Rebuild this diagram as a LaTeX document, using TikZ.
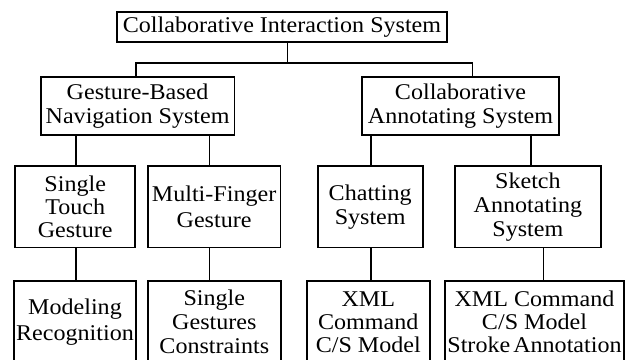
\documentclass[tikz,border=0pt]{standalone}
\usepackage{fontspec}
\setmainfont{Liberation Serif}[FakeStretch=1.07]
\begin{document}
\begin{tikzpicture}[x=1pt,y=-1pt,
  box/.style={draw=black,line width=1.9pt,rectangle,inner sep=0pt,align=center,
    font=\fontsize{22.5}{24}\selectfont},
  conn/.style={draw=black,line width=1.1pt}]
\useasboundingbox (0,0) rectangle (632,359);
\fill[white] (0,0) rectangle (632,359);
\clip (0,0) rectangle (632,359);
% row 1
\node[box,minimum width=330.6pt,minimum height=30pt] (top) at (282,26.7) {Collaborative Interaction System};
% row 2
\node[box,minimum width=193.8pt,minimum height=58pt] (gbn) at (137.6,106.2) {Gesture-Based\\Navigation System};
\node[box,minimum width=197pt,minimum height=58pt] (cas) at (460.5,106.2) {Collaborative\\Annotating System};
% row 3
\node[box,minimum width=120.3pt,minimum height=81.5pt,font=\fontsize{22.5}{23}\selectfont] (st) at (75.2,206.75) {Single\\Touch\\Gesture};
\node[box,minimum width=132.8pt,minimum height=81.5pt,font=\fontsize{22.5}{25.7}\selectfont] (mf) at (214.1,206.75) {Multi-Finger\\Gesture};
\node[box,minimum width=105pt,minimum height=81.5pt] (ch) at (370.2,206.75) {Chatting\\System};
\node[box,minimum width=146.3pt,minimum height=81.5pt] (sk) at (527.9,206.75) {Sketch\\Annotating\\System};
% row 4
\node[box,minimum width=122pt,minimum height=82pt,font=\fontsize{22.5}{26}\selectfont] (mr) at (75,322) {Modeling\\Recognition};
\node[box,minimum width=133.3pt,minimum height=82pt] (sg) at (214.3,322) {Single\\Gestures\\Constraints};
\node[box,minimum width=123.3pt,minimum height=82pt,font=\fontsize{22.5}{23}\selectfont] (xc) at (368.3,322) {XML\\Command\\C/S Model};
\node[box,minimum width=179pt,minimum height=82pt,font=\fontsize{22.5}{23}\selectfont] (xs) at (534.5,322) {XML Command\\C/S Model\\{\spaceskip 3pt\relax Stroke Annotation}};
% connector guide coordinates
\coordinate (bus) at (0,63);
\coordinate (xa) at (287.7,0);
\coordinate (xl) at (136,0);
\coordinate (xr) at (472.7,0);
\coordinate (x1) at (76,0);
\coordinate (x2) at (209.5,0);
\coordinate (x3) at (371,0);
\coordinate (x4) at (531,0);
\coordinate (x4b) at (543.7,0);
% connectors
\draw[conn] (top.south -| xa) -- (bus -| xa);
\draw[conn] (gbn.north -| xl) -- (bus -| xl) -- (bus -| xr) -- (cas.north -| xr);
\draw[conn] (gbn.south -| x1) -- (st.north -| x1);
\draw[conn] (gbn.south -| x2) -- (mf.north -| x2);
\draw[conn] (cas.south -| x3) -- (ch.north -| x3);
\draw[conn] (cas.south -| x4) -- (sk.north -| x4);
\draw[conn] (st.south -| x1) -- (mr.north -| x1);
\draw[conn] (mf.south -| x2) -- (sg.north -| x2);
\draw[conn] (ch.south -| x3) -- (xc.north -| x3);
\draw[conn] (sk.south -| x4b) -- (xs.north -| x4b);
\end{tikzpicture}
\end{document}
